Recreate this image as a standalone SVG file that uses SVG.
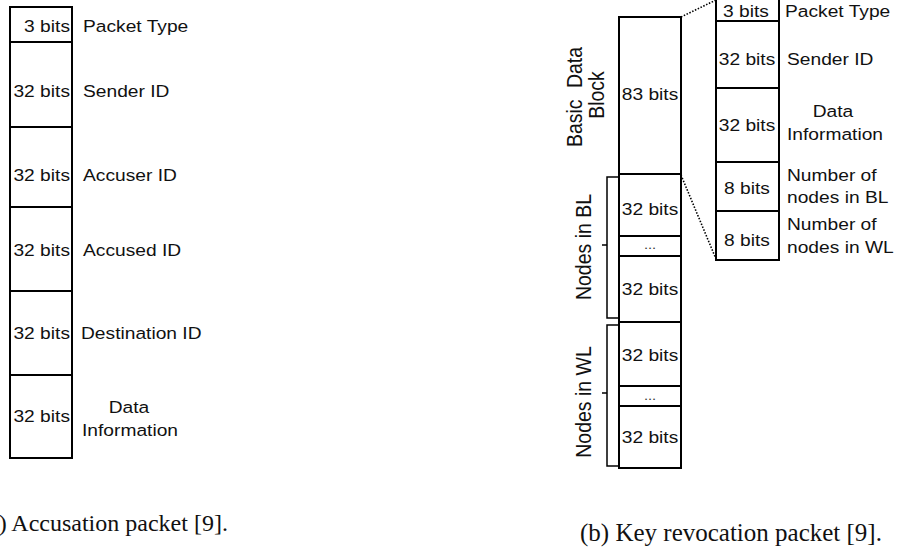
<svg xmlns="http://www.w3.org/2000/svg" width="899" height="556" viewBox="0 0 899 556">
<style>
.box{fill:#fff;stroke:#000;stroke-width:2}
.div{stroke:#000;stroke-width:2;fill:none}
.t{font-family:"Liberation Sans",Arial,sans-serif;font-size:17px;fill:#111}
.m{text-anchor:middle}
.e{text-anchor:end}
.r{font-family:"Liberation Sans",Arial,sans-serif;font-size:19.5px;fill:#111;text-anchor:middle}
.dots{font-family:"Liberation Sans",Arial,sans-serif;font-size:13px;fill:#333;text-anchor:middle}
.cap{font-family:"Liberation Serif","Times New Roman",serif;fill:#111}
.conn{stroke:#000;stroke-width:1.6;stroke-dasharray:1.5 1.6;fill:none}
.br{stroke:#000;stroke-width:1.5;fill:none}
</style>

<g id="accusation-packet">
  <rect class="box" x="10" y="7" width="62" height="451"/>
  <path class="div" d="M10,42H72M10,127H72M10,207H72M10,291H72M10,375H72"/>
  <g id="a-packet-type">
    <text class="t e" transform="translate(70 32) scale(1.13 1)">3 bits</text>
    <text class="t" transform="translate(83 32) scale(1.13 1)">Packet Type</text>
  </g>
  <g id="a-sender-id">
    <text class="t e" transform="translate(70 97) scale(1.13 1)">32 bits</text>
    <text class="t" transform="translate(83 97) scale(1.13 1)">Sender ID</text>
  </g>
  <g id="a-accuser-id">
    <text class="t e" transform="translate(70 181) scale(1.13 1)">32 bits</text>
    <text class="t" transform="translate(83 181) scale(1.13 1)">Accuser ID</text>
  </g>
  <g id="a-accused-id">
    <text class="t e" transform="translate(70 256) scale(1.13 1)">32 bits</text>
    <text class="t" transform="translate(83 256) scale(1.13 1)">Accused ID</text>
  </g>
  <g id="a-destination-id">
    <text class="t e" transform="translate(70 339) scale(1.13 1)">32 bits</text>
    <text class="t" transform="translate(81 339) scale(1.13 1)">Destination ID</text>
  </g>
  <g id="a-data-information">
    <text class="t e" transform="translate(70 422) scale(1.13 1)">32 bits</text>
    <text class="t m" transform="translate(129 413) scale(1.13 1)">Data</text>
    <text class="t m" transform="translate(130 436) scale(1.13 1)">Information</text>
  </g>
</g>

<g id="revocation-packet">
  <rect class="box" x="619" y="17" width="62" height="451"/>
  <path class="div" d="M619,174H681M619,236H681M619,256H681M619,322H681M619,386H681M619,406H681"/>
  <g id="b-basic-block">
    <text class="t m" transform="translate(650 100) scale(1.13 1)">83 bits</text>
  </g>
  <g id="b-bl-first"><text class="t m" transform="translate(650 215) scale(1.13 1)">32 bits</text></g>
  <g id="b-bl-dots"><text class="dots" transform="translate(650 249) scale(1.13 1)">...</text></g>
  <g id="b-bl-last"><text class="t m" transform="translate(650 295) scale(1.13 1)">32 bits</text></g>
  <g id="b-wl-first"><text class="t m" transform="translate(650 361) scale(1.13 1)">32 bits</text></g>
  <g id="b-wl-dots"><text class="dots" transform="translate(650 400) scale(1.13 1)">...</text></g>
  <g id="b-wl-last"><text class="t m" transform="translate(650 443) scale(1.13 1)">32 bits</text></g>
</g>

<g id="labels-brackets">
  <text class="r" word-spacing="6" transform="translate(582 97) scale(1.1 1) rotate(-90)">Basic Data</text>
  <text class="r" transform="translate(604 95) scale(1.1 1) rotate(-90)">Block</text>
  <path class="br" d="M618,177H607V318H618M602,245H607"/>
  <text class="r" transform="translate(591 247) scale(1.1 1) rotate(-90)">Nodes in BL</text>
  <path class="br" d="M618,325H607V466H618M602,393H607"/>
  <text class="r" transform="translate(591 402) scale(1.1 1) rotate(-90)">Nodes in WL</text>
</g>

<g id="basic-data-detail">
  <rect class="box" x="716" y="-2" width="63" height="262"/>
  <path class="div" d="M716,21H779M716,88H779M716,162H779M716,211H779"/>
  <g id="d-packet-type">
    <text class="t m" transform="translate(746 16.5) scale(1.13 1)">3 bits</text>
    <text class="t" transform="translate(785 16.5) scale(1.13 1)">Packet Type</text>
  </g>
  <g id="d-sender-id">
    <text class="t m" transform="translate(747 65) scale(1.13 1)">32 bits</text>
    <text class="t" transform="translate(787 65) scale(1.13 1)">Sender ID</text>
  </g>
  <g id="d-data-information">
    <text class="t m" transform="translate(747 130.5) scale(1.13 1)">32 bits</text>
    <text class="t m" transform="translate(833 117) scale(1.13 1)">Data</text>
    <text class="t m" transform="translate(835 139.5) scale(1.13 1)">Information</text>
  </g>
  <g id="d-nodes-bl">
    <text class="t m" transform="translate(747 194) scale(1.13 1)">8 bits</text>
    <text class="t" transform="translate(787 181) scale(1.13 1)">Number of</text>
    <text class="t" transform="translate(787 203) scale(1.13 1)">nodes in BL</text>
  </g>
  <g id="d-nodes-wl">
    <text class="t m" transform="translate(747 246) scale(1.13 1)">8 bits</text>
    <text class="t" transform="translate(787 230) scale(1.13 1)">Number of</text>
    <text class="t" transform="translate(787 253) scale(1.13 1)">nodes in WL</text>
  </g>
</g>

<g id="connectors">
  <path class="conn" d="M681,17L716,0"/>
  <path class="conn" d="M681,175L716,259"/>
</g>

<g id="captions">
  <text class="cap" x="-20" y="531" font-size="24">(a) Accusation packet [9].</text>
  <text class="cap" x="580" y="541" font-size="25">(b) Key revocation packet [9].</text>
</g>
</svg>
